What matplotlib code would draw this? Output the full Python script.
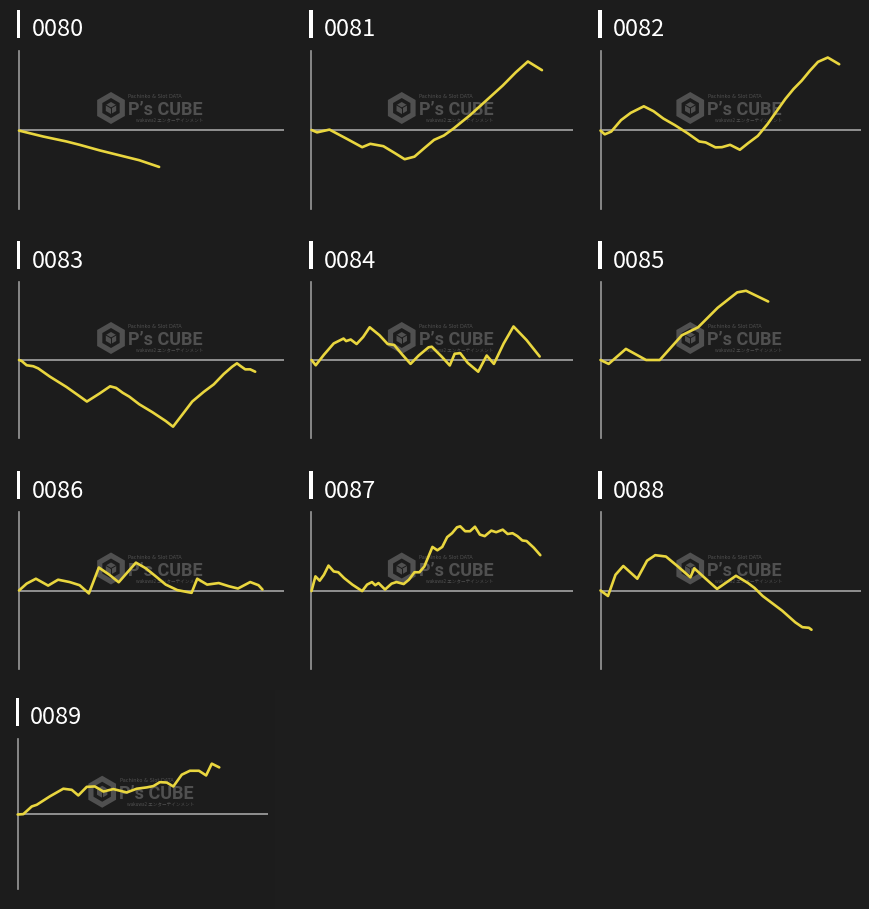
import matplotlib
matplotlib.use("Agg")
import matplotlib.pyplot as plt
from matplotlib.patches import Rectangle, RegularPolygon
from matplotlib.transforms import Affine2D

W, H = 870, 909
BG = "#1c1c1c"
LINE_COLOR = "#e9d63f"
AXIS_COLOR = "#9a9a9a"
MARK_COLOR = "#505050"

# numero de maquina
machines = ["0080", "0081", "0082", "0083", "0084",
            "0085", "0086", "0087", "0088", "0089"]

# juegos (x) y diferencia de fichas (y)
games_0080 = [0, 730, 1430, 1830, 2430, 3030, 3630, 4230]
diff_0080 = [-30, -330, -580, -750, -1030, -1280, -1530, -1870]

games_0081 = [0, 170, 550, 1050, 1550, 1800, 2200, 2550, 2850, 3150, 3450, 3750,
              4050, 4350, 4850, 5350, 5850, 6250, 6620, 7050]
diff_0081 = [0, -120, 20, -420, -870, -700, -820, -1170, -1480, -1350, -920, -500,
             -280, 80, 750, 1500, 2250, 2920, 3470, 3030]

games_0082 = [0, 130, 330, 630, 930, 1330, 1630, 1930, 2280, 2680, 3030, 3230, 3530,
              3730, 3980, 4280, 4530, 4830, 5130, 5430, 5680, 5930, 6180, 6430, 6680,
              6980, 7330]
diff_0082 = [-30, -220, -80, 500, 870, 1200, 950, 580, 250, -170, -580, -630, -880,
             -870, -750, -1000, -670, -300, 300, 1000, 1580, 2080, 2500, 3000, 3450,
             3670, 3330]

games_0083 = [0, 80, 230, 430, 580, 930, 1430, 1780, 2050, 2430, 2750, 2930, 3130,
              3330, 3630, 4030, 4430, 4650, 4930, 5230, 5580, 5880, 6180, 6430, 6580,
              6680, 6830, 6980, 7130]
diff_0083 = [0, -50, -270, -320, -430, -850, -1380, -1800, -2130, -1720, -1350, -1430,
             -1680, -1880, -2270, -2680, -3130, -3420, -2800, -2130, -1630, -1250, -720,
             -350, -170, -300, -480, -480, -600]

games_0084 = [0, 130, 380, 680, 980, 1060, 1200, 1380, 1580, 1780, 2080, 2330, 2530,
              2780, 3030, 3280, 3580, 3680, 3980, 4230, 4380, 4550, 4780, 5100, 5360,
              5580, 5880, 6180, 6580, 6980]
diff_0084 = [0, -270, 270, 850, 1100, 970, 1050, 820, 1180, 1680, 1270, 820, 770, 270,
             -200, 230, 650, 680, 180, -280, 320, 350, -150, -600, 230, -200, 850, 1720,
             1020, 180]

games_0085 = [0, 250, 780, 1400, 1820, 2500, 3000, 3600, 4200, 4470, 5150]
diff_0085 = [0, -200, 570, 0, 0, 1270, 1680, 2680, 3470, 3550, 3000]

games_0086 = [0, 230, 510, 880, 1180, 1530, 1830, 2110, 2410, 2730, 3010, 3530, 3830,
              4130, 4430, 4780, 5210, 5380, 5680, 6030, 6330, 6610, 6980, 7230, 7350]
diff_0086 = [0, 350, 600, 250, 550, 430, 270, -150, 1170, 800, 420, 1420, 1130, 720,
             300, 20, -120, 600, 300, 380, 220, 100, 430, 270, 50]

games_0087 = [0, 120, 250, 380, 520, 680, 820, 1000, 1250, 1550, 1700, 1850, 1950, 2050,
              2250, 2450, 2600, 2820, 2980, 3150, 3300, 3450, 3700, 3850, 4000, 4150,
              4300, 4450, 4550, 4700, 4850, 5000, 5150, 5300, 5500, 5650, 5850, 6000,
              6150, 6300, 6450, 6580, 6800, 7000]
diff_0087 = [-30, 720, 500, 800, 1270, 970, 930, 630, 300, -30, 300, 430, 270, 380, 50,
             350, 430, 330, 550, 930, 930, 1220, 2220, 2050, 2220, 2720, 2920, 3220,
             3270, 3020, 3020, 3250, 2850, 2770, 3050, 2970, 3100, 2880, 2920, 2770,
             2550, 2520, 2180, 1800]

games_0088 = [0, 230, 460, 700, 1130, 1430, 1680, 2010, 2380, 2760, 2880, 3230, 3580,
              4160, 4530, 4730, 4980, 5580, 5980, 6200, 6400, 6480]
diff_0088 = [0, -280, 800, 1250, 600, 1520, 1800, 1730, 1220, 670, 1130, 600, 80, 750,
             380, 130, -280, -1030, -1620, -1870, -1900, -2000]

games_0089 = [0, 180, 450, 610, 1030, 1460, 1730, 1940, 2210, 2470, 2740, 3060, 3490,
              3810, 4130, 4340, 4550, 4770, 4980, 5250, 5510, 5800, 6030, 6210, 6450]
diff_0089 = [-40, -20, 390, 480, 930, 1340, 1280, 980, 1440, 1460, 1190, 1320, 1140,
             1340, 1410, 1480, 1690, 1670, 1460, 2090, 2300, 2300, 2050, 2680, 2480]

series = [
    (games_0080, diff_0080), (games_0081, diff_0081), (games_0082, diff_0082),
    (games_0083, diff_0083), (games_0084, diff_0084), (games_0085, diff_0085),
    (games_0086, diff_0086), (games_0087, diff_0087), (games_0088, diff_0088),
    (games_0089, diff_0089),
]

# posicion de cada panel en pixeles: (izquierda, arriba, ancho, alto)
col_pos = [(19, 265), (311.5, 261.5), (600.5, 260.5)]
row_pos = [(51, 158), (282, 156), (512, 157)]
panels = [(c[0], r[0], c[1], r[1]) for r in row_pos for c in col_pos]
panels.append((17.7, 739, 250, 149.5))


def draw_watermark(ax, T, cx, cy):
    """Marca de agua P's CUBE centrada en (cx, cy) en pixeles."""
    ix, iy = cx - 40.5, cy - 22
    ax.add_patch(RegularPolygon((ix, iy), 6, radius=16, facecolor=MARK_COLOR,
                                edgecolor="none", transform=T, zorder=1))
    ax.add_patch(RegularPolygon((ix, iy), 6, radius=10, facecolor=BG,
                                edgecolor="none", transform=T, zorder=1))
    ax.add_patch(RegularPolygon((ix, iy), 6, radius=6, facecolor=MARK_COLOR,
                                edgecolor="none", transform=T, zorder=1))
    for dx, dy in [(0, 6), (-5.2, -3), (5.2, -3)]:
        ax.plot([ix, ix + dx], [iy, iy + dy], color=BG, lw=0.7,
                transform=T, zorder=1)
    ax.text(cx - 23.5, cy - 20, "P\u2019s CUBE", transform=T, color=MARK_COLOR,
            family="Roboto", weight="bold", fontsize=13, ha="left", va="center", zorder=1)
    ax.text(cx - 23, cy - 33, "Pachinko & Slot DATA", transform=T, color=MARK_COLOR,
            family="DejaVu Sans", fontsize=3.6, ha="left", va="center", zorder=1)
    ax.text(cx + 51.5, cy - 10, "wakuwa2 エンターテインメント", transform=T,
            color=MARK_COLOR, family=["Noto Sans CJK JP", "DejaVu Sans"], fontsize=3.3,
            ha="right", va="center", zorder=1)


def draw_panel(fig, T, name, games, diff, rect):
    """Dibuja un panel con su titulo, ejes y linea."""
    left, top, width, height = rect
    ax = fig.add_axes([left / W, 1 - (top + height) / H, width / W, height / H])
    ax.set_facecolor("none")
    for side in ["top", "right", "bottom"]:
        ax.spines[side].set_visible(False)
    ax.spines["left"].set_color(AXIS_COLOR)
    ax.spines["left"].set_linewidth(1.2)
    ax.set_xticks([])
    ax.set_yticks([])
    ax.set_xlim(0, 8000)
    ax.set_ylim(-4000, 4000)
    ax.axhline(0, color=AXIS_COLOR, lw=1.3, zorder=2)

    draw_watermark(ax, T, left + width / 2, top + height / 2)

    ax.plot(games, diff, color=LINE_COLOR, lw=1.9, solid_joinstyle="round",
            solid_capstyle="round", zorder=3, clip_on=False)

    # titulo con barra blanca
    fig.add_artist(Rectangle((left - 2, top - 41.5), 3.2, 28, facecolor="white",
                             edgecolor="none", transform=T))
    fig.text(left + 12.5, top - 14.5, name, transform=T, color="white",
             family=["Noto Sans CJK JP", "DejaVu Sans"], fontsize=17,
             ha="left", va="baseline")


def main():
    fig = plt.figure(figsize=(W / 100, H / 100), dpi=100, facecolor=BG)
    # transformacion de pixeles (origen arriba a la izquierda) a figura
    T = Affine2D().scale(1 / W, -1 / H).translate(0, 1) + fig.transFigure

    fig.add_artist(Rectangle((275, 690), W - 275, H - 690, facecolor="#1d1d1d",
                             edgecolor="none", transform=T, zorder=0))

    for name, (games, diff), rect in zip(machines, series, panels):
        draw_panel(fig, T, name, games, diff, rect)

    fig.savefig("out.png", dpi=100, facecolor=BG)


if __name__ == "__main__":
    main()
